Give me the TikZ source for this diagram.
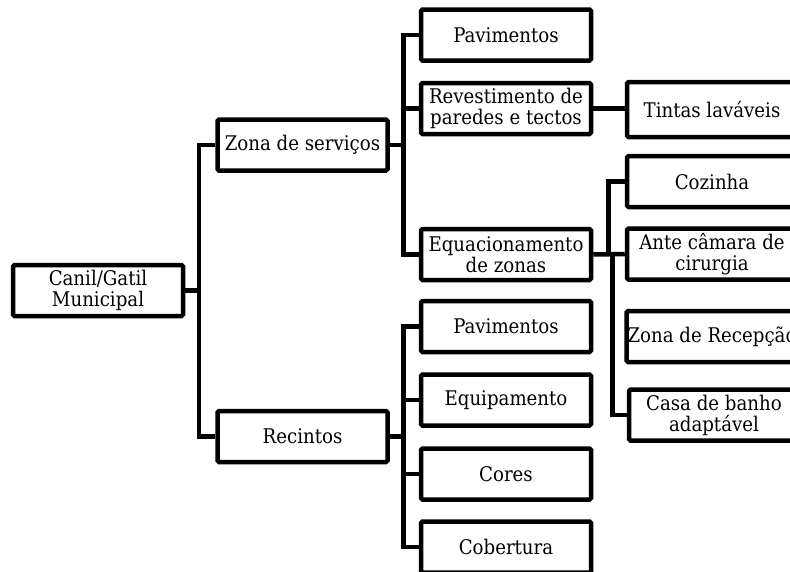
\documentclass[tikz,border=0pt]{standalone}
\usepackage{fontspec}
\setmainfont{DejaVu Serif Condensed}
\begin{document}
\begin{tikzpicture}[x=1pt,y=-1pt,
  box/.style={draw=black,line width=4.5pt,rounded corners=1.5pt,fill=white,
    minimum width=170pt,minimum height=51pt,inner sep=1pt,align=center,
    font=\fontsize{20.2}{21}\selectfont},
  conn/.style={line width=4.5pt,line join=miter}]
\useasboundingbox (0,0) rectangle (790,571);
\clip (0,0) rectangle (790,571);
\fill[white] (0,0) rectangle (790,571);
% level 0
\node[box] (canil) at (98,290.5) {Canil/Gatil\\Municipal};
% level 1
\node[box] (zona) at (302.5,145) {Zona de serviços};
\node[box] (rec) at (302.5,436.5) {Recintos};
% level 2
\node[box] (pav1) at (506,35) {Pavimentos};
\node[box] (rev) at (506,108.5) {Revestimento de\\paredes e tectos};
\node[box] (equa) at (506,254.5) {Equacionamento\\de zonas};
\node[box] (pav2) at (506,326.5) {Pavimentos};
\node[box] (equip) at (506,400) {Equipamento};
\node[box] (cores) at (506,474) {Cores};
\node[box] (cob) at (506,547) {Cobertura};
% level 3
\node[box,minimum height=55pt] (tint) at (712,109.5) {Tintas laváveis};
\node[box] (coz) at (712,181.5) {Cozinha};
\node[box] (ante) at (712,254) {Ante câmara de\\cirurgia};
\node[box] (recep) at (712,336.5) {Zona de Recepção};
\node[box] (casa) at (714,415) {Casa de banho\\adaptável};
% bus coordinates
\coordinate (b0) at (199,0);
\coordinate (b1) at (403.5,0);
\coordinate (b2a) at (608.5,0);
\coordinate (b2b) at (612.5,0);
% connectors
\draw[conn] (canil.east) -- (canil.east -| b0);
\draw[conn] (zona.west) -| (b0 |- rec.west) -- (rec.west);
\draw[conn] (zona.east) -- (zona.east -| b1);
\draw[conn] (pav1.west) -| (b1 |- equa.west) -- (equa.west);
\draw[conn] (rev.west) -- (rev.west -| b1);
\draw[conn] (rec.east) -- (rec.east -| b1);
\draw[conn] (pav2.west) -| (b1 |- cob.west) -- (cob.west);
\draw[conn] (equip.west) -- (equip.west -| b1);
\draw[conn] (cores.west) -- (cores.west -| b1);
\draw[conn] (rev.east) -- (rev.east -| tint.west);
\draw[conn] (equa.east) -- (ante.west);
\draw[conn] (coz.west) -| (b2a |- ante.west);
\draw[conn] (b2b |- ante.west) |- (casa.west);
\end{tikzpicture}
\end{document}
